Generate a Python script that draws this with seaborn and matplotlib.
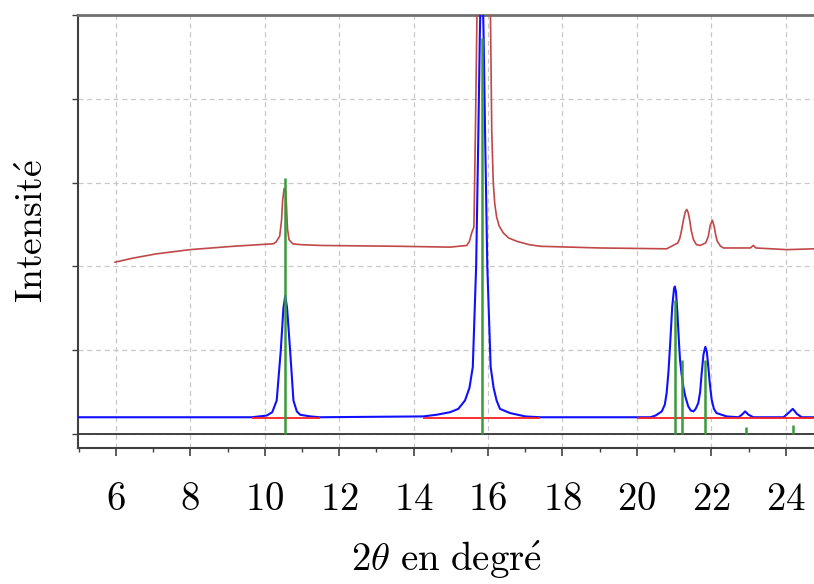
import numpy as np
import seaborn as sns
import matplotlib
matplotlib.use("Agg")
import matplotlib.pyplot as plt
from matplotlib.ticker import MultipleLocator

exp_x = [5.97, 6.47, 7.09, 7.99, 9.15, 10.23, 10.3, 10.4, 10.45, 10.48, 10.52, 10.56, 10.58,
         10.61, 10.65, 10.75, 10.95, 11.5, 13.6, 14.98, 15.43, 15.5, 15.56, 15.62, 15.66, 15.72,
         15.9, 16.05, 16.08, 16.1, 16.14, 16.18, 16.23, 16.3, 16.41, 16.55, 16.77, 17.1, 17.4,
         19.01, 20.8, 21.1, 21.15, 21.2, 21.25, 21.3, 21.34, 21.38, 21.42, 21.46, 21.52, 21.6,
         21.7, 21.85, 21.92, 21.97, 22.03, 22.08, 22.12, 22.16, 22.25, 22.33, 23.05, 23.13,
         23.2, 24.03, 24.76]
exp_y = [2.05, 2.1, 2.15, 2.2, 2.24, 2.27, 2.29, 2.36, 2.55, 2.79, 2.93, 2.9, 2.75,
         2.45, 2.32, 2.27, 2.26, 2.25, 2.24, 2.23, 2.25, 2.3, 2.4, 2.47, 3.6, 5.6,
         6.5, 5.6, 4.4, 3.6, 3.0, 2.75, 2.59, 2.48, 2.4, 2.34, 2.3, 2.26, 2.24,
         2.22, 2.21, 2.28, 2.33, 2.43, 2.55, 2.65, 2.68, 2.64, 2.55, 2.43, 2.32, 2.26,
         2.25, 2.28, 2.36, 2.49, 2.55, 2.47, 2.37, 2.3, 2.24, 2.22, 2.22, 2.25,
         2.22, 2.2, 2.21]

# calculated pattern (blue)
calc_x = [4.98, 9.65, 10.05, 10.2, 10.32, 10.43, 10.5, 10.55, 10.6, 10.68, 10.77, 10.86,
          10.95, 11.22, 11.48,
          14.26, 14.62, 14.98, 15.2, 15.38, 15.5, 15.59, 15.68, 15.74, 15.78, 15.83, 15.88,
          15.92, 15.98, 16.07, 16.15, 16.23, 16.32, 16.59, 17.0, 17.4,
          20.0, 20.36, 20.5, 20.67, 20.75, 20.8, 20.85, 20.89, 20.95, 21.0, 21.02, 21.05,
          21.09, 21.13, 21.16, 21.2, 21.25, 21.3, 21.38, 21.45, 21.52, 21.58, 21.65, 21.7,
          21.74, 21.79, 21.84, 21.88, 21.92, 21.96, 22.01, 22.07, 22.14, 22.41, 22.73, 22.82,
          22.91, 23.0, 23.13, 23.94, 24.07, 24.19, 24.3, 24.43, 24.76]
calc_y = [0.2, 0.2, 0.22, 0.26, 0.4, 1.0, 1.5, 1.65, 1.5, 1.0, 0.4, 0.27,
          0.23, 0.21, 0.2,
          0.21, 0.23, 0.26, 0.3, 0.4, 0.55, 0.8, 2.0, 3.6, 4.78, 5.8, 4.78,
          3.6, 2.0, 0.8, 0.55, 0.4, 0.3, 0.25, 0.21, 0.2,
          0.2, 0.2, 0.22, 0.27, 0.35, 0.49, 0.75, 1.04, 1.52, 1.74, 1.76, 1.7,
          1.44, 1.1, 0.88, 0.72, 0.56, 0.45, 0.33, 0.28, 0.27, 0.3, 0.37, 0.5,
          0.72, 0.95, 1.04, 0.98, 0.8, 0.6, 0.41, 0.3, 0.25, 0.21, 0.2, 0.23,
          0.27, 0.23, 0.2, 0.2, 0.25, 0.3, 0.24, 0.2, 0.2]

# background segments (red) under the calculated peaks
bg_start = [9.65, 14.25, 20.0]
bg_end = [11.48, 17.4, 24.76]
bg_level = 0.19

# reference peak positions (green sticks)
ref_pos = [10.54, 15.83, 21.02, 21.2, 21.84, 22.93, 24.19]
ref_int = [3.06, 4.72, 1.6, 0.88, 0.88, 0.08, 0.11]

x_ticks = [6, 8, 10, 12, 14, 16, 18, 20, 22, 24]

sns.set_style("white")
plt.rcParams["mathtext.fontset"] = "cm"
plt.rcParams["text.color"] = "black"
plt.rcParams["axes.labelcolor"] = "black"
plt.rcParams["xtick.color"] = "black"

fig = plt.figure(figsize=(8.14, 5.84), dpi=100)
ax = fig.add_axes([78 / 814, 1 - 448 / 584, 1 - 78 / 814, (448 - 15) / 584])

ax.grid(True, which="major", color="#c8c8c8", linestyle=(0, (4, 3)), linewidth=0.9)
ax.set_axisbelow(True)

ax.axhline(0, color="#404040", linewidth=1.4, zorder=2)

sns.lineplot(x=calc_x, y=calc_y, ax=ax, color="#1010ff", linewidth=1.5,
             estimator=None, sort=False, zorder=3)
ax.hlines([bg_level] * len(bg_start), bg_start, bg_end, color="#ff2020", linewidth=1.3, zorder=4)
sns.lineplot(x=exp_x, y=exp_y, ax=ax, color="#c04848", linewidth=1.2,
             estimator=None, sort=False, zorder=3)
ax.vlines(ref_pos, 0, ref_int, color="#3a9a3a", linewidth=1.8, zorder=5)

ax.set_xlim(4.98, 24.76)
ax.set_ylim(-0.167, 5.0)
ax.set_xticks(x_ticks)
ax.set_xticklabels([f"${v}$" for v in x_ticks])
ax.xaxis.set_minor_locator(MultipleLocator(1))
ax.set_yticks([0, 1, 2, 3, 4, 5])
ax.set_yticklabels([])
ax.yaxis.grid(True)
ax.tick_params(axis="x", which="major", direction="out", length=6, width=1.2,
               color="#404040", labelcolor="black", labelsize=28, pad=17)
ax.tick_params(axis="x", which="minor", direction="out", length=3, width=1.0, color="#404040")
ax.tick_params(axis="y", direction="out", length=4, width=1.0, color="#404040", left=True)
ax.tick_params(axis="x", bottom=True, which="both")

for side in ["left", "bottom"]:
    ax.spines[side].set_color("#404040")
    ax.spines[side].set_linewidth(1.5)
ax.spines["top"].set_color("#707070")
ax.spines["top"].set_linewidth(2.0)
ax.spines["right"].set_visible(False)

ax.set_xlabel(r"$2\theta\ \mathrm{en\ degr\acute{e}}$", fontsize=28, labelpad=15, color="black")
ax.set_ylabel(r"$\mathrm{Intensit\acute{e}}$", fontsize=27, labelpad=12, color="black")

fig.savefig("out.png", dpi=100)
